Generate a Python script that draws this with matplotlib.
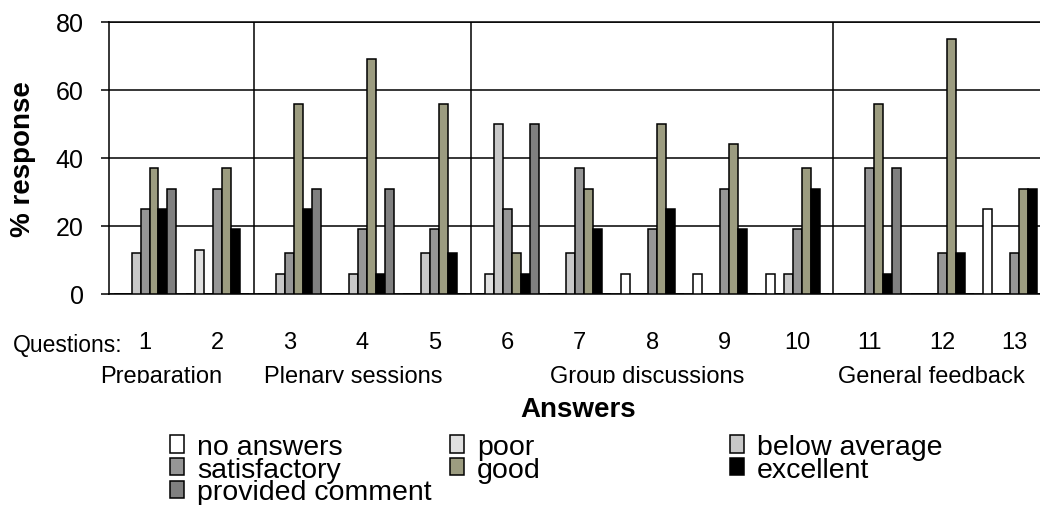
import numpy as np
import matplotlib
matplotlib.use('Agg')
import matplotlib.pyplot as plt
from matplotlib.patches import Patch
from matplotlib.transforms import Bbox, TransformedBbox

plt.rcParams['font.family'] = ['Liberation Sans', 'DejaVu Sans']

questions = ['1', '2', '3', '4', '5', '6', '7', '8', '9', '10', '11', '12', '13']
sections = ['Preparation', 'Plenary sessions', 'Group discussions', 'General feedback']
section_pos = [0.73, 3.37, 7.43, 11.35]
section_breaks = [2, 5, 10]

answers = ['no answers', 'poor', 'below average', 'satisfactory',
           'good', 'excellent', 'provided comment']
no_answers = [0, 0, 0, 0, 0, 0, 0, 6, 6, 6, 0, 0, 25]
poor = [0, 13, 0, 0, 0, 6, 0, 0, 0, 0, 0, 0, 0]
below_average = [12, 0, 6, 6, 12, 50, 12, 0, 0, 6, 0, 0, 0]
satisfactory = [25, 31, 12, 19, 19, 25, 37, 19, 31, 19, 37, 12, 12]
good = [37, 37, 56, 69, 56, 12, 31, 50, 44, 37, 56, 75, 31]
excellent = [25, 19, 25, 6, 12, 6, 19, 25, 19, 31, 6, 12, 31]
provided_comment = [31, 0, 31, 31, 0, 50, 0, 0, 0, 0, 37, 0, 0]

series = [no_answers, poor, below_average, satisfactory, good, excellent, provided_comment]
colors = ['#ffffff', '#e0e0e0', '#c8c8c8', '#969696', '#9c9c80', '#000000', '#808080']

width = 0.124

fig = plt.figure(figsize=(10.4, 5.06), dpi=100)
ax = fig.add_axes([0.1046, 1 - 295 / 506, 0.9058, 272 / 506])

x = np.arange(len(questions)) + 0.5
for k, (vals, col) in enumerate(zip(series, colors)):
    ax.bar(x + (k - 3) * width, vals, width, color=col, edgecolor='black',
           linewidth=1.1, zorder=3)

ax.set_xlim(0, len(questions))
ax.set_ylim(0, 80)
ax.set_yticks([0, 20, 40, 60, 80])
ax.yaxis.grid(True, color='black', linewidth=1.1, zorder=1)
for b in section_breaks:
    ax.axvline(b, color='black', linewidth=1.1, zorder=1)

for s in ['left', 'top', 'bottom']:
    ax.spines[s].set_linewidth(1.1)
ax.spines['right'].set_visible(False)

ax.tick_params(axis='y', direction='out', length=6, width=1.1, pad=12, labelsize=18)
ax.set_xticks(x)
ax.set_xticklabels(questions, fontsize=17)
ax.tick_params(axis='x', length=0, pad=27)

fig.text(13 / 1040, 1 - 352 / 506, 'Questions:', fontsize=16.5, ha='left', va='baseline')

# section names sit under the question numbers, cut off at the baseline
clip = TransformedBbox(Bbox([[0, 1 - 384 / 506], [1, 1]]), fig.transFigure)
for name, pos in zip(sections, section_pos):
    t = ax.text(pos, -(383 - 295) / 272, name, transform=ax.get_xaxis_transform(),
                fontsize=17, ha='center', va='baseline')
    t.set_clip_box(clip)
    t.set_clip_on(True)

fig.text(23 / 1040, 1 - 159 / 506, '% response', rotation=90, fontsize=20,
         fontweight='bold', ha='center', va='center')
fig.text(578 / 1040, 1 - 410 / 506, 'Answers', fontsize=20, fontweight='bold',
         ha='center', va='center')

handles = [Patch(facecolor=c, edgecolor='black', linewidth=1.1) for c in colors]
col_x = [170, 450, 730]
for c in range(3):
    idx = list(range(c, len(answers), 3))
    fig.legend([handles[i] for i in idx], [answers[i] for i in idx],
               loc='upper left', bbox_to_anchor=(col_x[c] / 1040, 1 - 435 / 506),
               frameon=False, fontsize=20.5, borderpad=0, borderaxespad=0,
               handlelength=0.5, handleheight=0.55, handletextpad=0.45,
               labelspacing=-0.12)

fig.savefig('out.png', dpi=100)
